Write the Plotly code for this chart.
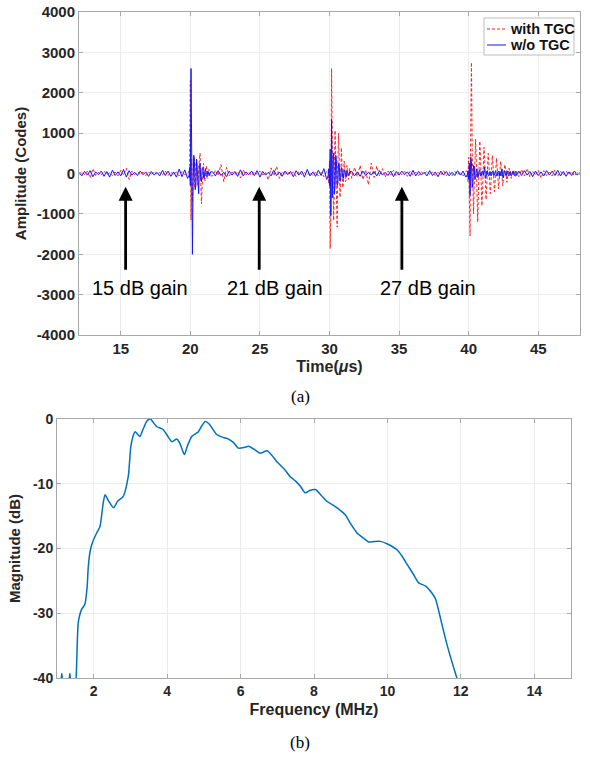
import plotly.graph_objects as go

# ---------------- (a) time-domain echoes ----------------
# sampling segments: (start time in us, sample step in us)
seg_starts = [12.0, 19.9, 21.6, 29.9, 31.6, 39.9, 43.6]
seg_steps = [0.2, 0.05, 0.2, 0.05, 0.2, 0.05, 0.2]

with_A1 = [-20, 40, -30, 60, -110, 120, -50, 30, -40, 60, -30, 20, -50, 40, -60, 80, -40, 130, -150, 60,
           -30, 40, -20, 30, -50, 40, -30, 50, -20, 30, -40, 60, -50, 30, -20, 40, -60, 50, -30, 20]
wo_A1 = [30, -60, 50, -40, 70, -80, 40, -30, 60, -70, 50, -90, 80, -50, 40, -60, 100, -90, 70, -40,
         30, -50, 60, -30, 40, -70, 50, -40, 30, -60, 80, -50, 60, -70, 40, -90, 110, -80, 90, -120]

with_B1 = [50, -120, 2300, -1150, 350, -700, 200, 400, -300, -350, 250, 350,
           -200, -300, 150, 300, 500, -200, -750, -300, 200, 250,
           -150, -200, 150, 180, -100, -120, 80, 100, -80, -60]
wo_B1 = [-60, 150, -300, 2600, 400, -2000, -200, 450, 300, -400, -300, 350,
         100, -250, -500, 200, 250, -150, -200, 120, 150, -100,
         -120, 80, 100, -60, -80, 60, 40, -50, -30, 40]

with_A2 = [-60, 80, -50, 220, -200, 150, -60, 40, -30, 50, -110, 90, -40, 30, -50, 40, -20, 60, -40, 30,
           -160, 140, -60, 180, -120, 50, -40, 60, -30, 40, -70, 50, -30, 20, -40, 30, -50, 40, -60, 30,
           -80, 60]
wo_A2 = [40, -60, 70, -50, 30, -80, 60, -40, 50, -70, 90, -60, 40, -30, 60, -50, 70, -90, 50, -40,
         30, -60, 80, -50, 40, -70, 60, -30, 50, -80, 70, -40, 60, -90, 100, -60, 40, -70, 80, -50,
         120, -150]

with_B2 = [80, -250, 300, -1860, -800, 2600, 800, -600, -1160, -200, 1065, 300,
           -800, -1330, 200, 1000, 300, -590, -300, 640, 200, -350,
           -250, 300, 150, -200, -150, 200, 100, -150, -100, 120]
wo_B2 = [-50, 120, -300, 600, -1040, 1350, -600, 300, 500, -500, -300, 450,
         300, -300, -250, 250, 200, -180, -150, 150, 100, -100,
         -120, 80, 90, -60, -80, 60, 50, -50, -40, 50]

with_A3 = [-120, 150, -80, 200, -150, 90, -280, 260, -100, 180, -60, 120, -90, 60, -40, 80, -60, 40, -30, 50,
           -70, 60, -40, 30, -50, 40, -20, 60, -30, 40, -50, 30, -40, 70, -50, 40, -60, 50, -30, 40,
           -80, 60]
wo_A3 = [50, -60, 40, -70, 60, -50, 30, -40, 50, -60, 70, -40, 30, -50, 60, -80, 50, -40, 60, -30,
         40, -70, 80, -60, 50, -40, 30, -60, 70, -50, 40, -80, 60, -40, 50, -60, 30, -50, 70, -40,
         60, -90]

with_B3 = [60, -200, 400, -700, -1550, 1200, 2750, 600, -600, -1000, -300, 400,
           850, 300, -400, -1200, -500, 200, 800, 400, -300, -800,
           -400, 200, 650, 300, -250, -650, -300, 150, 500, 250,
           -200, -500, -250, 150, 450, 200, -200, -450, -200, 120,
           380, 150, -150, -380, -150, 100, 300, 120, -120, -300,
           -120, 80, 220, 100, -100, -220, -80, 60, 130, 60,
           -60, -120, -50, 50, 80, 30, -40, -70, 20, 50]
wo_B3 = [-30, 60, -150, 250, -545, 404, 300, -350, -250, 200, 180, -150,
         -120, 100, 120, -100, -80, 70, 90, -60, -70, 50,
         60, -50, 120, 160, -120, -100, 60, 70, -50, -60,
         40, 50, -60, -40, 50, 60, -50, -40, 40, 60,
         -60, -50, 40, 60, -70, 50, -60, 80, 110, -100,
         -90, 60, 50, -40, -60, 70, 40, -50, -60, 40,
         50, -60, -40, 50, 60, -40, -50, 60, 40, -50]

with_A4 = [-80, 100, -60, 120, -90, 60, -40, 80, -110, 70, -50, 40, -60, 90, -70, 50, -40, 60, -30, 50,
           -60, 40, -30]
wo_A4 = [60, -50, 70, -40, 50, -80, 60, -50, 40, -60, 70, -40, 60, -50, 80, -60, 50, -70, 40, -50,
         60, -40, 30]

with_segments = [with_A1, with_B1, with_A2, with_B2, with_A3, with_B3, with_A4]
wo_segments = [wo_A1, wo_B1, wo_A2, wo_B2, wo_A3, wo_B3, wo_A4]

series_names = ["with TGC", "w/o TGC"]
series_colors = ["#ff2020", "#1414ff"]
series_dash = ["3px,2px", "solid"]

amp_ticks = [-4000, -3000, -2000, -1000, 0, 1000, 2000, 3000, 4000]
amp_tick_text = ["-4000", "-3000", "-2000", "-1000", "0", "1000", "2000", "3000", "4000"]
time_ticks = [15, 20, 25, 30, 35, 40, 45]

gain_labels = ["15 dB gain", "21 dB gain", "27 dB gain"]
gain_arrow_t = [15.35, 24.95, 35.2]
gain_label_t = [16.4, 26.1, 37.1]


def assemble(segments):
    t_all, v_all = [], []
    for start, step, vals in zip(seg_starts, seg_steps, segments):
        for i, v in enumerate(vals):
            t_all.append(round(start + i * step, 4))
            v_all.append(v)
    pairs = sorted(zip(t_all, v_all))
    return [p[0] for p in pairs], [p[1] for p in pairs]


t_with, a_with = assemble(with_segments)
t_wo, a_wo = assemble(wo_segments)

# ---------------- (b) spectrum ----------------
freq_mhz = [1.0, 1.1, 1.13, 1.16, 1.25, 1.32, 1.35, 1.38, 1.45, 1.52, 1.55, 1.58, 1.67, 1.76, 1.82, 1.85,
            1.9, 1.97, 2.08, 2.17, 2.26, 2.31, 2.4, 2.54, 2.65, 2.8, 2.94, 3.01, 3.08, 3.13, 3.2, 3.26,
            3.35, 3.45, 3.54, 3.62, 3.72, 3.85, 3.9, 4.0, 4.13, 4.26, 4.35, 4.47, 4.55, 4.67, 4.85,
            4.95, 5.04, 5.15, 5.35, 5.5, 5.63, 5.8, 5.94, 6.1, 6.22, 6.4, 6.54, 6.72, 6.85, 6.99,
            7.2, 7.35, 7.5, 7.63, 7.76, 7.9, 8.04, 8.2, 8.35, 8.6, 8.85, 9.0, 9.17, 9.35, 9.49,
            9.65, 9.81, 10.0, 10.26, 10.4, 10.54, 10.7, 10.85, 11.04, 11.2, 11.31, 11.45, 11.63,
            11.87, 11.95]
mag_db = [-42, -41, -39.3, -41, -44, -41, -39.3, -41, -43, -40, -35, -31.4, -29.4, -28.6, -26, -23,
          -20.5, -19, -17.6, -16.6, -12.9, -11.7, -12.6, -13.7, -12.7, -12.0, -8.9, -4.3, -2.5, -1.95, -2.4, -2.7,
          -1.5, -0.3, 0, -0.5, -1.2, -1.5, -1.7, -2.5, -3.5, -3.1, -3.8, -5.5, -4.2, -2.7, -1.95,
          -1.0, -0.4, -0.8, -2.4, -2.8, -3.0, -3.6, -4.5, -4.4, -4.2, -4.8, -5.3, -4.9, -5.6, -6.6,
          -7.8, -8.9, -9.6, -10.4, -11.4, -11.0, -10.9, -11.8, -12.7, -13.6, -14.8, -16.2, -17.6, -18.4, -19.0,
          -18.9, -18.9, -19.3, -20.2, -21.2, -22.5, -23.9, -25.3, -25.8, -26.8, -27.8, -30.9, -35.0,
          -39.6, -41]
db_ticks = [-40, -30, -20, -10, 0]
db_tick_text = ["-40", "-30", "-20", "-10", "0"]
freq_ticks = [2, 4, 6, 8, 10, 12, 14]

# ---------------- figure ----------------
W, H = 590, 757


def px(x):
    return x / W


def py(y):
    return 1 - y / H


TICK_COLOR = "#262626"
AX_COLOR = "#a8a8a8"
GRID = "#ececec"
FONT = "Liberation Sans, Arial, sans-serif"

fig = go.Figure()
fig.add_trace(go.Scatter(x=t_with, y=a_with, mode="lines", name=series_names[0], showlegend=False,
                         line=dict(color=series_colors[0], width=1, dash=series_dash[0]),
                         xaxis="x", yaxis="y"))
fig.add_trace(go.Scatter(x=t_wo, y=a_wo, mode="lines", name=series_names[1], showlegend=False,
                         line=dict(color=series_colors[1], width=1, dash=series_dash[1]),
                         xaxis="x", yaxis="y"))
fig.add_trace(go.Scatter(x=freq_mhz, y=mag_db, mode="lines", showlegend=False,
                         line=dict(color="#0072BD", width=1.5, shape="spline", smoothing=0.6),
                         xaxis="x2", yaxis="y2"))

common_axis = dict(showline=True, linecolor=AX_COLOR, linewidth=1, mirror="ticks",
                   ticks="inside", ticklen=4, tickcolor=AX_COLOR,
                   showgrid=True, gridcolor=GRID, gridwidth=1, zeroline=False,
                   ticklabeloverflow="allow")
tf15 = dict(family=FONT, size=15, color=TICK_COLOR, weight="bold")
tf14 = dict(family=FONT, size=14, color=TICK_COLOR, weight="bold")

fig.update_layout(
    width=W, height=H, template="none",
    paper_bgcolor="white", plot_bgcolor="white",
    margin=dict(l=0, r=0, t=0, b=0),
    showlegend=False,
    xaxis=dict(domain=[px(79), px(580)], anchor="y", range=[12, 48],
               tickvals=time_ticks, tickfont=tf15,
               title=dict(text="Time(<i>μ</i>s)", standoff=4,
                          font=dict(family=FONT, size=16, color=TICK_COLOR, weight="bold")),
               **common_axis),
    yaxis=dict(domain=[py(335), py(12)], anchor="x", range=[-4000, 4000],
               tickvals=amp_ticks, ticktext=amp_tick_text, tickfont=tf15,
               title=dict(text="Amplitude (Codes)", standoff=6,
                          font=dict(family=FONT, size=15, color=TICK_COLOR, weight="bold")),
               **common_axis),
    xaxis2=dict(domain=[px(57), px(571)], anchor="y2", range=[1, 15],
                tickvals=freq_ticks, tickfont=tf14,
                title=dict(text="Frequency (MHz)", standoff=6,
                           font=dict(family=FONT, size=16, color=TICK_COLOR, weight="bold")),
                **common_axis),
    yaxis2=dict(domain=[py(678), py(419)], anchor="x2", range=[-40, 0],
                tickvals=db_ticks, ticktext=db_tick_text, tickfont=tf14,
                title=dict(text="Magnitude (dB)", standoff=8,
                           font=dict(family=FONT, size=15, color=TICK_COLOR, weight="bold")),
                **common_axis),
)

# compact legend box (MATLAB style) in the top-right corner of plot (a)
shapes = [dict(type="rect", xref="paper", yref="paper", x0=px(484), x1=px(574), y0=py(55), y1=py(18),
               fillcolor="white", line=dict(color="#bdbdbd", width=1), layer="above")]
annotations = []
legend_rows_y = [29, 45]
for name, col, dash, ry in zip(series_names, series_colors, series_dash, legend_rows_y):
    shapes.append(dict(type="line", xref="paper", yref="paper", x0=px(487), x1=px(506), y0=py(ry), y1=py(ry),
                       line=dict(color=col, width=1, dash=dash), layer="above"))
    annotations.append(dict(x=px(508), y=py(ry), xref="paper", yref="paper", text=name, showarrow=False,
                            xanchor="left", yanchor="middle",
                            font=dict(family=FONT, size=14.5, color="#111111", weight="bold")))
fig.update_layout(shapes=shapes)

for lab, ta, tl in zip(gain_labels, gain_arrow_t, gain_label_t):
    annotations.append(dict(x=ta, y=-330, ax=ta, ay=-2420, xref="x", yref="y", axref="x", ayref="y",
                            text="", showarrow=True, arrowhead=2, arrowsize=1.0, arrowwidth=2.8,
                            arrowcolor="black", standoff=0, startstandoff=0))
    annotations.append(dict(x=tl, y=-2830, xref="x", yref="y", text=lab, showarrow=False,
                            font=dict(family=FONT, size=20, color="black")))

annotations.append(dict(x=px(300), y=py(396), xref="paper", yref="paper", text="(a)", showarrow=False,
                        xanchor="center", yanchor="middle",
                        font=dict(family="Liberation Serif, Times New Roman, serif", size=17, color="black")))
annotations.append(dict(x=px(300), y=py(742), xref="paper", yref="paper", text="(b)", showarrow=False,
                        xanchor="center", yanchor="middle",
                        font=dict(family="Liberation Serif, Times New Roman, serif", size=17, color="black")))
fig.update_layout(annotations=annotations)

# remove the browser's default 8px page margin so the figure fills the window exactly
fig.write_html("out.html", config={"displayModeBar": False},
               post_script="document.body.style.margin='0px';")
